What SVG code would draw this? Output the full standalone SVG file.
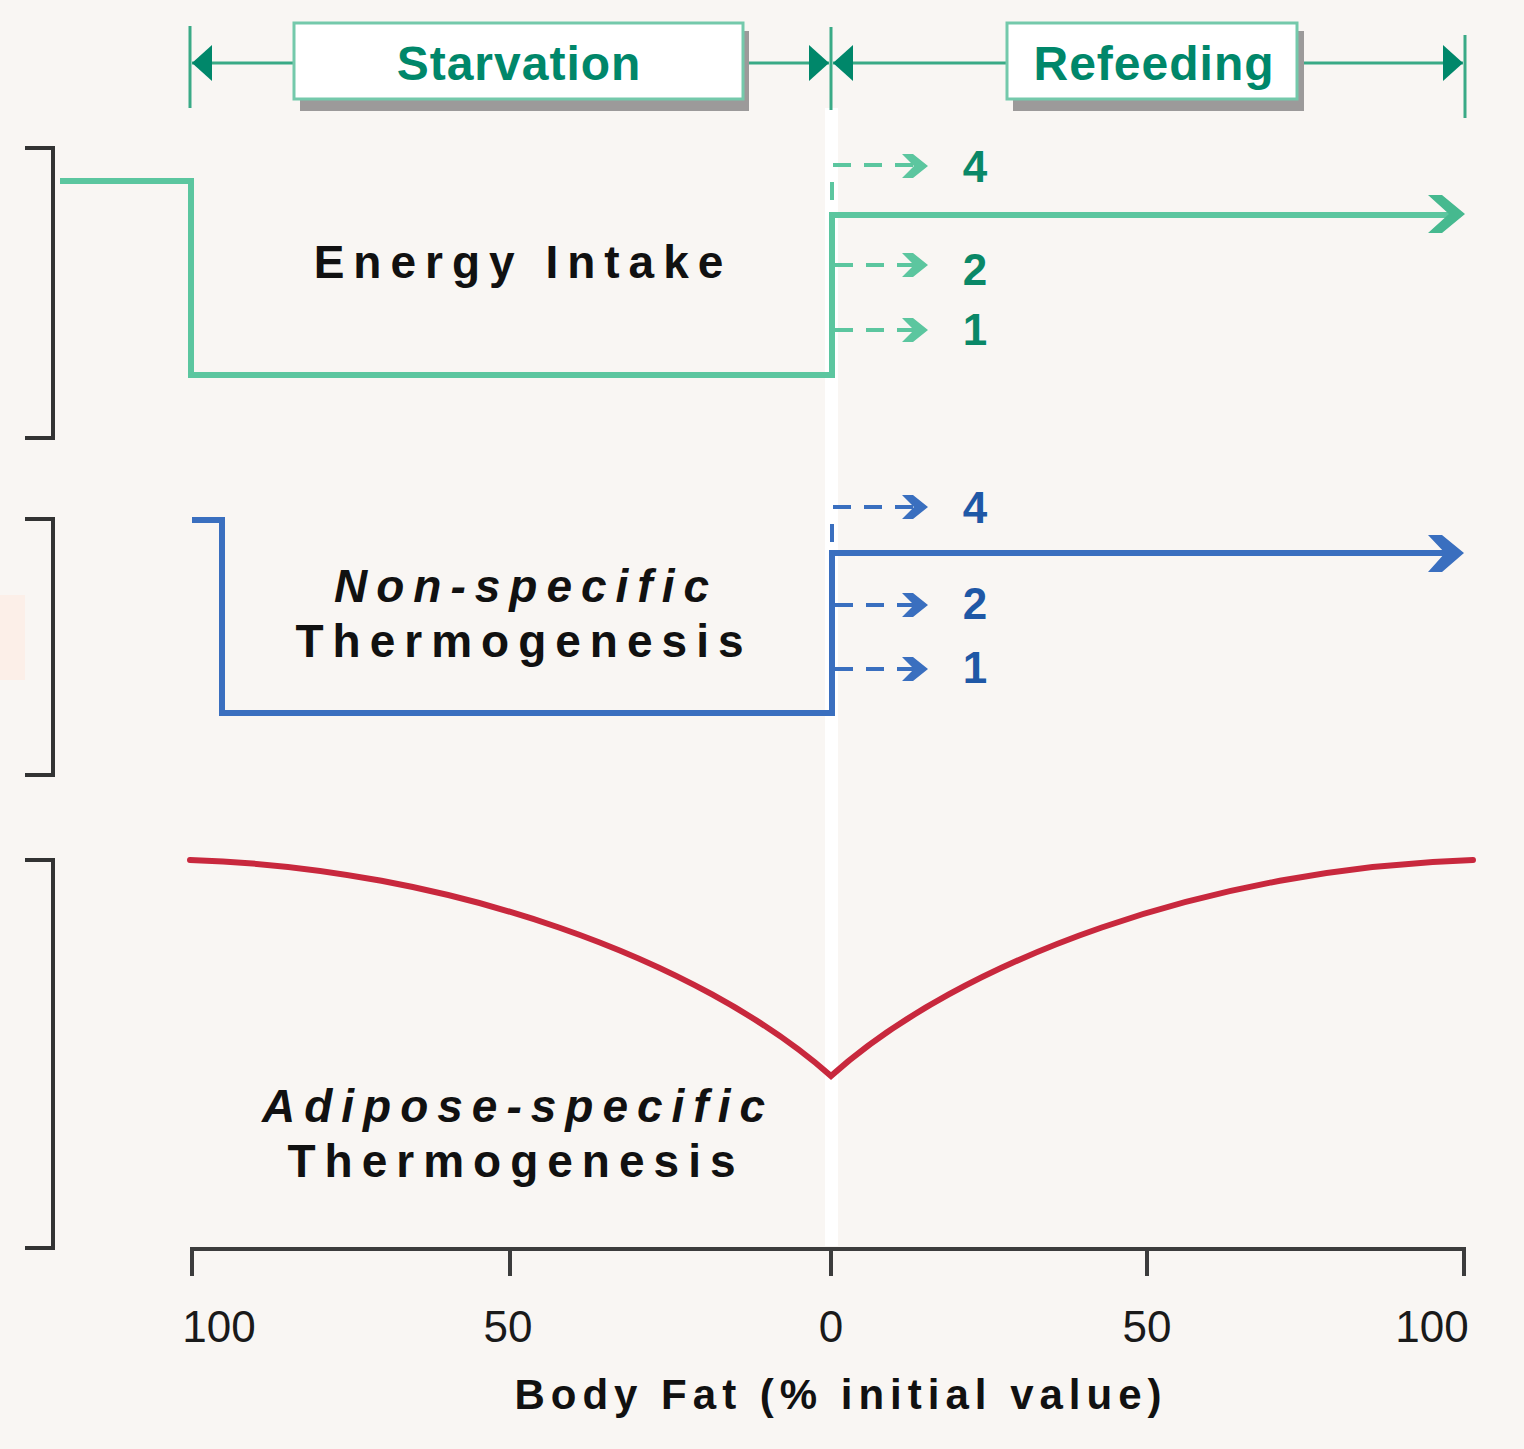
<svg xmlns="http://www.w3.org/2000/svg" width="1524" height="1449" viewBox="0 0 1524 1449">
<defs>
<style>
.bg{fill:#f9f6f3}
.hdr{stroke:#3aaa86;stroke-width:3;fill:none}
.hdrtip{fill:#00876a}
.box{fill:#ffffff;stroke:#74c9ab;stroke-width:3}
.shadow{fill:#9c9a9a}
.boxtxt{font-family:"Liberation Sans",Arial,sans-serif;font-weight:bold;font-size:48px;fill:#00876a;letter-spacing:1px;text-anchor:middle}
.green{stroke:#5cc69f;stroke-width:6;fill:none;stroke-linejoin:miter}
.blue{stroke:#3a6fbf;stroke-width:6;fill:none;stroke-linejoin:miter}
.gdash{stroke:#5cc69f;stroke-width:4;fill:none;stroke-dasharray:18 13}
.bdash{stroke:#3a6fbf;stroke-width:4;fill:none;stroke-dasharray:18 13}
.gnum{font-family:"Liberation Sans",Arial,sans-serif;font-weight:bold;font-size:44px;fill:#0a8867;text-anchor:middle}
.bnum{font-family:"Liberation Sans",Arial,sans-serif;font-weight:bold;font-size:44px;fill:#1f58a6;text-anchor:middle}
.lbl{font-family:"Liberation Sans",Arial,sans-serif;font-weight:bold;font-size:46px;fill:#111111;letter-spacing:9px;text-anchor:middle}
.it{font-style:italic}
.red{stroke:#c8283d;stroke-width:6;fill:none;stroke-linecap:round;stroke-linejoin:miter}
.brk{stroke:#333333;stroke-width:4;fill:none}
.axis{stroke:#3c3c3c;stroke-width:4;fill:none}
.tick{font-family:"Liberation Sans",Arial,sans-serif;font-size:44px;fill:#1a1a1a;text-anchor:middle}
.axt{font-family:"Liberation Sans",Arial,sans-serif;font-weight:bold;font-size:42px;fill:#111111;letter-spacing:6px;text-anchor:middle}
</style>
<path id="chev" d="M-26,-12 L-15,-12 L0,0 L-15,12 L-26,12 L-14,0 Z"/>
</defs>
<rect class="bg" x="0" y="0" width="1524" height="1449"/>
<rect x="0" y="595" width="25" height="85" fill="#fcefe8"/>
<rect x="825" y="108" width="13" height="1138" fill="#ffffff"/>

<g id="header">
<line class="hdr" x1="190" y1="26" x2="190" y2="108"/>
<line class="hdr" x1="831" y1="27" x2="831" y2="110"/>
<line class="hdr" x1="1465" y1="35" x2="1465" y2="118"/>
<line class="hdr" x1="192" y1="63" x2="294" y2="63"/>
<line class="hdr" x1="743" y1="63" x2="829" y2="63"/>
<line class="hdr" x1="833" y1="63" x2="1007" y2="63"/>
<line class="hdr" x1="1298" y1="63" x2="1463" y2="63"/>
<polygon class="hdrtip" points="192,63 212,45 212,81"/>
<polygon class="hdrtip" points="829,63 809,45 809,81"/>
<polygon class="hdrtip" points="833,63 853,45 853,81"/>
<polygon class="hdrtip" points="1463,63 1443,45 1443,81"/>
</g>

<g id="starvation">
<rect class="shadow" x="300" y="31" width="449" height="80"/>
<rect class="box" x="294" y="23" width="449" height="76"/>
<text class="boxtxt" x="519" y="80">Starvation</text>
</g>

<g id="refeeding">
<rect class="shadow" x="1013" y="31" width="291" height="80"/>
<rect class="box" x="1007" y="23" width="290" height="76"/>
<text class="boxtxt" x="1154" y="80">Refeeding</text>
</g>

<g id="brackets">
<polyline class="brk" points="25,148 53,148 53,438 25,438"/>
<polyline class="brk" points="25,519 53,519 53,775 25,775"/>
<polyline class="brk" points="25,860 53,860 53,1248 25,1248"/>
</g>

<g id="energy-intake">
<polyline class="green" points="60,181 191,181 191,375 832,375 832,215 1450,215"/>
<polygon fill="#46b98f" points="1428,195 1442,195 1465,214 1442,233 1428,233 1449,214"/>
<text class="lbl" x="523" y="278">Energy Intake</text>
</g>

<g id="energy-options">
<line class="gdash" x1="832" y1="200" x2="832" y2="178"/>
<line class="gdash" x1="833" y1="165" x2="915" y2="165"/>
<use href="#chev" x="928" y="166" fill="#5cc69f"/>
<text class="gnum" x="975" y="182">4</text>
<line class="gdash" x1="835" y1="265" x2="915" y2="265"/>
<use href="#chev" x="928" y="265" fill="#5cc69f"/>
<text class="gnum" x="975" y="285">2</text>
<line class="gdash" x1="835" y1="330" x2="915" y2="330"/>
<use href="#chev" x="928" y="330" fill="#5cc69f"/>
<text class="gnum" x="975" y="345">1</text>
</g>

<g id="nonspecific">
<polyline class="blue" points="192,520 222,520 222,713 832,713 832,553 1450,553"/>
<polygon fill="#3a6fbf" points="1428,535 1442,535 1464,553 1442,572 1428,572 1445,553"/>
<text class="lbl it" x="526" y="602">Non-specific</text>
<text class="lbl" x="524" y="657">Thermogenesis</text>
</g>

<g id="nonspecific-options">
<line class="bdash" x1="832" y1="542" x2="832" y2="518"/>
<line class="bdash" x1="833" y1="507" x2="915" y2="507"/>
<use href="#chev" x="928" y="507" fill="#3a6fbf"/>
<text class="bnum" x="975" y="523">4</text>
<line class="bdash" x1="835" y1="605" x2="915" y2="605"/>
<use href="#chev" x="928" y="605" fill="#3a6fbf"/>
<text class="bnum" x="975" y="619">2</text>
<line class="bdash" x1="835" y1="669" x2="915" y2="669"/>
<use href="#chev" x="928" y="669" fill="#3a6fbf"/>
<text class="bnum" x="975" y="683">1</text>
</g>

<g id="adipose">
<path class="red" d="M190,860 C450,868 700,960 831,1076 C960,960 1210,868 1473,860"/>
<text class="lbl it" x="518" y="1122">Adipose-specific</text>
<text class="lbl" x="516" y="1177">Thermogenesis</text>
</g>

<g id="axis">
<polyline class="axis" points="192,1276 192,1249 1464,1249 1464,1276"/>
<line class="axis" x1="510" y1="1249" x2="510" y2="1276"/>
<line class="axis" x1="831" y1="1249" x2="831" y2="1276"/>
<line class="axis" x1="1147" y1="1249" x2="1147" y2="1276"/>
<text class="tick" x="219" y="1342">100</text>
<text class="tick" x="508" y="1342">50</text>
<text class="tick" x="831" y="1342">0</text>
<text class="tick" x="1147" y="1342">50</text>
<text class="tick" x="1432" y="1342">100</text>
<text class="axt" x="841" y="1409">Body Fat (% initial value)</text>
</g>
</svg>
